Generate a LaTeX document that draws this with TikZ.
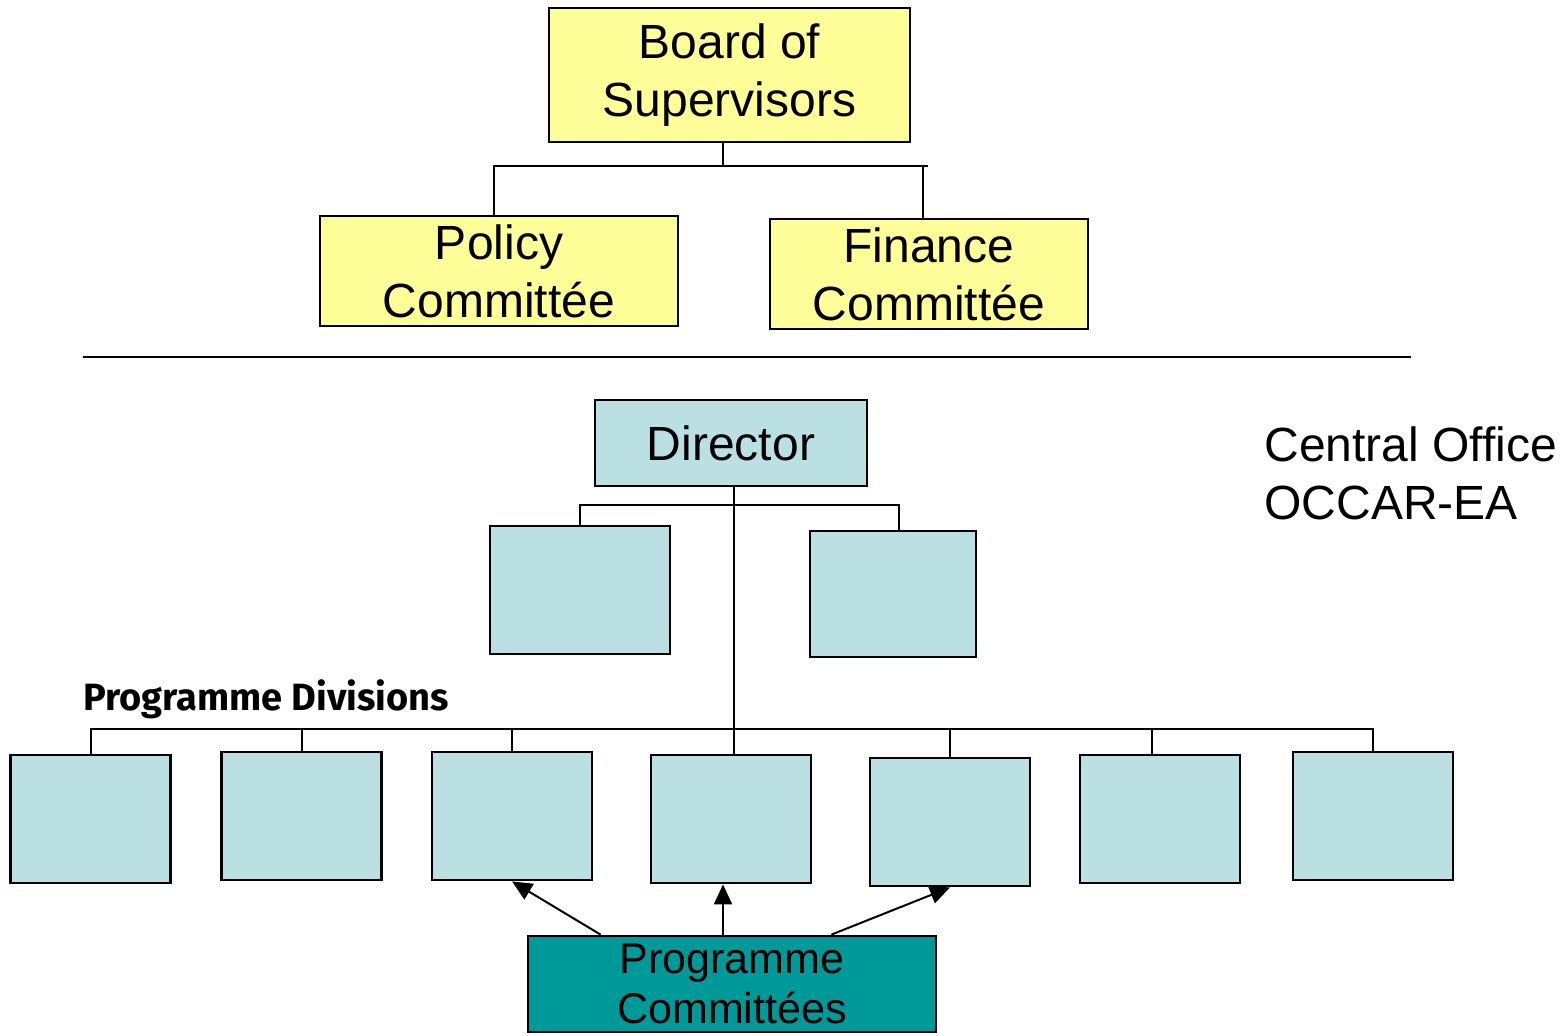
\documentclass[tikz,border=0pt]{standalone}
\usepackage{fontspec}
\setmainfont{Liberation Sans}
\newfontfamily\divfont{Fira Sans}
\usetikzlibrary{arrows.meta,positioning}
\definecolor{boardyellow}{HTML}{FFFF99}
\definecolor{officeblue}{HTML}{BBE0E3}
\definecolor{progteal}{HTML}{009999}
\begin{document}
\begin{tikzpicture}[
  x=0.5pt,y=-0.5pt,
  font=\fontsize{24}{29}\selectfont,
  sup/.style={draw,line width=1.4pt,fill=boardyellow,align=center,inner sep=0pt},
  off/.style={draw,line width=1.4pt,fill=officeblue,align=center,inner sep=0pt},
  div/.style={off,minimum width=80pt,minimum height=64pt},
  link/.style={line width=1pt},
  >={Triangle[length=10pt,width=9pt]}]
\useasboundingbox (0,0) rectangle (1568,1035);
% supervisory level
\node[sup,minimum width=180.5pt,minimum height=67pt] (board) at (729.5,75) {Board of\\Supervisors};
\node[sup,minimum width=179pt,minimum height=55pt] (policy) at (499,271) {Policy\\Committée};
\node[sup,minimum width=159pt,minimum height=55pt] (finance) at (929,274) {Finance\\Committée};
\coordinate (topbus) at (723,166);
\draw[link] (board.south -| topbus) -- (topbus);
\draw[link] ([xshift=-2.5pt]policy.north) -- ([xshift=-2.5pt]policy.north |- topbus) -- ([xshift=-0.5pt]finance.north |- topbus);
\draw[link] ([xshift=-3pt]finance.north) -- ([xshift=-3pt]finance.north |- topbus);
\draw[link] (83,357) coordinate (rulel) -- (1411,357) coordinate (ruler);
% central office
\node[off,minimum width=136pt,minimum height=43pt] (director) at (731,443) {Director};
\node[align=left,anchor=west,inner sep=0pt] (occar) at (1264,473) {Central Office\\OCCAR-EA};
\node[off,minimum width=90pt,minimum height=64pt] (staffl) at (580,590) {};
\node[off,minimum width=83pt,minimum height=63pt] (staffr) at (893,594) {};
\coordinate (staffbus) at (734,505);
\draw[link] (staffl.north) -- (staffl.north |- staffbus) -- ([xshift=3pt]staffr.north |- staffbus) -- ([xshift=3pt]staffr.north);
% programme divisions
\node[anchor=south west,inner sep=0pt,font=\divfont\bfseries\fontsize{19}{22}\selectfont] (divlabel) at (83,719) {Programme Divisions};
\node[div] (div1) at (90.5,819) {};
\node[div] (div2) at (301.5,816) {};
\node[div] (div3) at (512,816) {};
\node[div] (div4) at (731,819) {};
\node[div] (div5) at (950,822) {};
\node[div] (div6) at (1160,819) {};
\node[div] (div7) at (1373,816) {};
\coordinate (divbus) at (734,729);
\draw[link] (director.south -| divbus) -- (div4.north -| divbus);
\draw[link] (div1.north) -- (div1.north |- divbus) -- (div7.north |- divbus) -- (div7.north);
\foreach \d in {div2,div3,div5}
  \draw[link] (\d.north) -- (\d.north |- divbus);
\draw[link] ([xshift=-4pt]div6.north) -- ([xshift=-4pt]div6.north |- divbus);
% programme committees
\node[draw,line width=1.4pt,fill=progteal,align=center,inner sep=0pt,minimum width=204pt,minimum height=48pt,
  font=\fontsize{21.5}{25}\selectfont] (progcom) at (732,984) {Programme\\Committées};
\draw[link,->] ([xshift=37pt]progcom.north west) -- (div3.south);
\draw[link,->] ([xshift=-4.5pt]progcom.north) -- ([xshift=-4pt]div4.south);
\draw[link,->] ([xshift=-53pt]progcom.north east) -- (div5.south);
\end{tikzpicture}
\end{document}
